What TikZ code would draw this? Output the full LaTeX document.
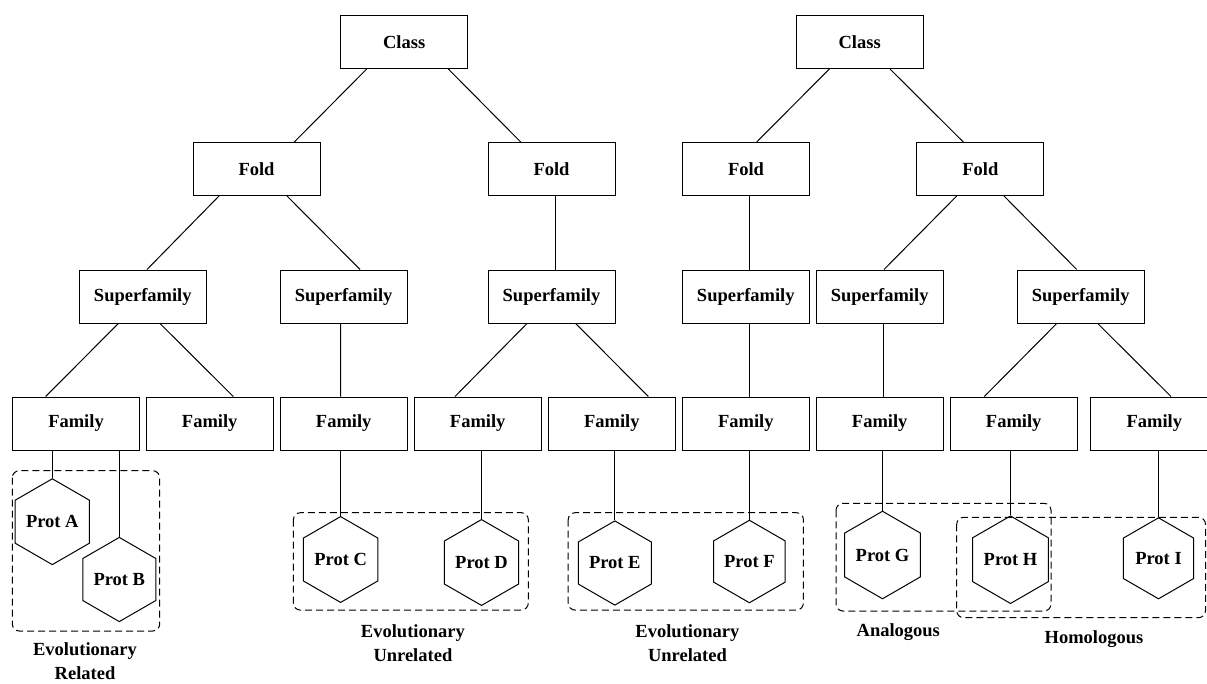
\documentclass[tikz,border=0pt]{standalone}
\usepackage{fontspec}
\setmainfont{Liberation Serif}
\usetikzlibrary{shapes.geometric}
\tikzset{
  lbl/.style={font=\fontsize{18.5}{24}\selectfont\bfseries, align=center, inner sep=0pt},
  tbox/.style={draw, line width=1pt, minimum width=127pt, minimum height=53pt, inner sep=0pt, lbl},
  hexa/.style={draw, line width=1pt, regular polygon, regular polygon sides=6, shape border rotate=30, minimum size=81pt, inner sep=0pt, lbl},
  link/.style={line width=1pt},
  grp/.style={draw, line width=1pt, dash pattern=on 7pt off 4pt, rounded corners=7pt}
}
\begin{document}
\begin{tikzpicture}[x=1pt,y=-1pt]
\useasboundingbox (0,0) rectangle (1207,683);
% Class row
\node[tbox] (cl) at (404.2,42) {Class};
\node[tbox] (cr) at (859.7,42) {Class};
% Fold row
\node[tbox] (fo1) at (256.5,169) {Fold};
\node[tbox] (fo2) at (551.5,169) {Fold};
\node[tbox] (fo3) at (746,169) {Fold};
\node[tbox] (fo4) at (980.3,169) {Fold};
% Superfamily row
\node[tbox] (sf1) at (142.8,296.5) {Superfamily};
\node[tbox] (sf2) at (343.6,296.5) {Superfamily};
\node[tbox] (sf3) at (551.5,296.5) {Superfamily};
\node[tbox] (sf4) at (745.8,296.5) {Superfamily};
\node[tbox] (sf5) at (879.7,296.5) {Superfamily};
\node[tbox] (sf6) at (1080.7,296.5) {Superfamily};
% Family row
\node[tbox] (fa1) at (76,423.5) {Family};
\node[tbox] (fa2) at (209.7,423.5) {Family};
\node[tbox] (fa3) at (343.7,423.5) {Family};
\node[tbox] (fa4) at (477.7,423.5) {Family};
\node[tbox] (fa5) at (611.8,423.5) {Family};
\node[tbox] (fa6) at (745.8,423.5) {Family};
\node[tbox] (fa7) at (879.7,423.5) {Family};
\node[tbox] (fa8) at (1013.7,423.5) {Family};
\node[tbox] (fa9) at (1154.3,423.5) {Family};
% Proteins
\node[hexa] (pa) at (52.3,521.7) {Prot A};
\node[hexa] (pb) at (119.3,579.5) {Prot B};
\node[hexa] (pc) at (340.6,559.5) {Prot C};
\node[hexa] (pd) at (481.5,562.5) {Prot D};
\node[hexa] (pe) at (614.8,563) {Prot E};
\node[hexa] (pf) at (749.4,561.5) {Prot F};
\node[hexa] (pg) at (882.5,555) {Prot G};
\node[hexa] (ph) at (1010.5,559.7) {Prot H};
\node[hexa] (pi) at (1158.5,558.3) {Prot I};
% tree links
\draw[link] ([xshift=-37.5pt]cl.south) -- ([xshift=37.8pt]fo1.north);
\draw[link] ([xshift=44.1pt]cl.south) -- ([xshift=-30.8pt]fo2.north);
\draw[link] ([xshift=-30.4pt]cr.south) -- ([xshift=10.7pt]fo3.north);
\draw[link] ([xshift=30.3pt]cr.south) -- ([xshift=-17pt]fo4.north);
\draw[link] ([xshift=-37.5pt]fo1.south) -- ([xshift=4.2pt]sf1.north);
\draw[link] ([xshift=30.5pt]fo1.south) -- ([xshift=16.5pt]sf2.north);
\draw[link] ([xshift=3.5pt]fo2.south) -- ([xshift=3.5pt]sf3.north);
\draw[link] ([xshift=3pt]fo3.south) -- ([xshift=3.2pt]sf4.north);
\draw[link] ([xshift=-23.6pt]fo4.south) -- ([xshift=4.3pt]sf5.north);
\draw[link] ([xshift=23.7pt]fo4.south) -- ([xshift=-4pt]sf6.north);
\draw[link] ([xshift=-24.5pt]sf1.south) -- ([xshift=-30.3pt]fa1.north);
\draw[link] ([xshift=17.2pt]sf1.south) -- ([xshift=23.6pt]fa2.north);
\draw[link] ([xshift=-2.9pt]sf2.south) -- ([xshift=-3pt]fa3.north);
\draw[link] ([xshift=-24.5pt]sf3.south) -- ([xshift=-22.7pt]fa4.north);
\draw[link] ([xshift=24.2pt]sf3.south) -- ([xshift=36.5pt]fa5.north);
\draw[link] ([xshift=3.2pt]sf4.south) -- ([xshift=3.2pt]fa6.north);
\draw[link] ([xshift=3.3pt]sf5.south) -- ([xshift=3.3pt]fa7.north);
\draw[link] ([xshift=-24pt]sf6.south) -- ([xshift=-29.4pt]fa8.north);
\draw[link] ([xshift=17pt]sf6.south) -- ([xshift=16.7pt]fa9.north);
% family to protein links
\draw[link] (pa.north) -- (pa.north |- fa1.south);
\draw[link] (pb.north) -- (pb.north |- fa1.south);
\draw[link] (pc.north) -- (pc.north |- fa3.south);
\draw[link] (pd.north) -- (pd.north |- fa4.south);
\draw[link] (pe.north) -- (pe.north |- fa5.south);
\draw[link] (pf.north) -- (pf.north |- fa6.south);
\draw[link] (pg.north) -- (pg.north |- fa7.south);
\draw[link] (ph.north) -- (ph.north |- fa8.south);
\draw[link] (pi.north) -- (pi.north |- fa9.south);
% groups
\draw[grp] (12.3,470.7) rectangle (159.7,631);
\draw[grp] (293.4,512.7) rectangle (528.3,610.1);
\draw[grp] (568.2,512.7) rectangle (803.4,610.1);
\draw[grp] (836,503.3) rectangle (1051,611);
\draw[grp] (956.7,517.3) rectangle (1205.5,617.7);
% group labels
\node[lbl] (lrel) at (85,661) {Evolutionary\\Related};
\node[lbl] (lun1) at (412.9,643.5) {Evolutionary\\Unrelated};
\node[lbl] (lun2) at (687.4,643.5) {Evolutionary\\Unrelated};
\node[lbl] (lana) at (898.3,632.3) {Analogous};
\node[lbl] (lhom) at (1094,639.3) {Homologous};
\end{tikzpicture}
\end{document}
